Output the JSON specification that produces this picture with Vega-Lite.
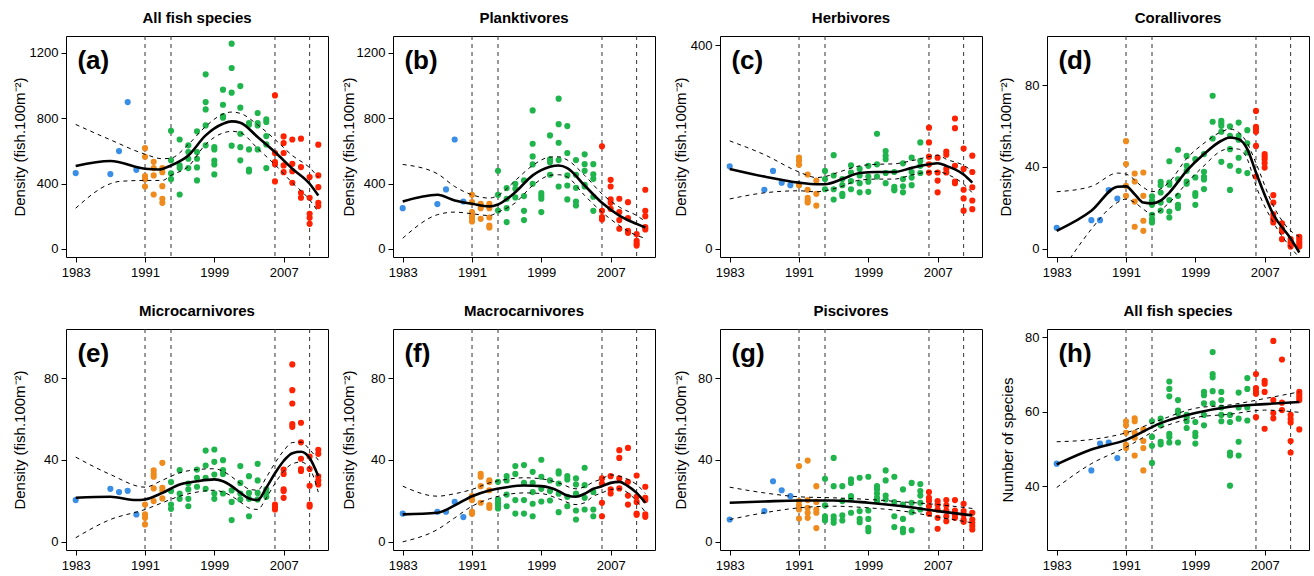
{
"$schema":"https://vega.github.io/schema/vega-lite/v6.json",
"padding":{"left":12,"top":10,"right":5,"bottom":5},
"background":"white",
"config":{
 "font":"Liberation Sans",
 "view":{"stroke":"black","strokeWidth":1},
 "axis":{"domain":false,"grid":false,"tickColor":"black","tickSize":5,"labelColor":"black","labelFontSize":13,"labelFont":"Liberation Sans","titleFont":"Liberation Sans","titleFontSize":15,"titleFontWeight":"normal","titleColor":"black"},
 "axisY":{"labelPadding":3,"minExtent":30,"maxExtent":30,"format":"d"},
 "axisX":{"labelPadding":4},
 "title":{"fontSize":15,"fontWeight":"bold","font":"Liberation Sans","color":"black","offset":10},
 "text":{"font":"Liberation Sans"}
},
"datasets":{
 "vl":[{"x":1991},{"x":1994},{"x":2006},{"x":2010}],
 "lab":[{"p":"a","t":"(a)"},{"p":"b","t":"(b)"},{"p":"c","t":"(c)"},{"p":"d","t":"(d)"},{"p":"e","t":"(e)"},{"p":"f","t":"(f)"},{"p":"g","t":"(g)"},{"p":"h","t":"(h)"}],
 "pts":[
{"p":"a","x":1983,"y":464},{"p":"a","x":1987,"y":458},{"p":"a","x":1988,"y":599},{"p":"a","x":1989,"y":899},{"p":"a","x":1990,"y":484},
{"p":"a","x":1991,"y":617},{"p":"a","x":1991,"y":564},{"p":"a","x":1991,"y":446},{"p":"a","x":1991,"y":427},{"p":"a","x":1991,"y":382},
{"p":"a","x":1992,"y":533},{"p":"a","x":1992,"y":495},{"p":"a","x":1992,"y":450},{"p":"a","x":1992,"y":333},
{"p":"a","x":1993,"y":495},{"p":"a","x":1993,"y":470},{"p":"a","x":1993,"y":384},{"p":"a","x":1993,"y":307},{"p":"a","x":1993,"y":282},
{"p":"a","x":1994,"y":723},{"p":"a","x":1994,"y":543},{"p":"a","x":1994,"y":462},{"p":"a","x":1994,"y":427},
{"p":"a","x":1995,"y":670},{"p":"a","x":1995,"y":511},{"p":"a","x":1995,"y":495},{"p":"a","x":1995,"y":333},
{"p":"a","x":1996,"y":634},{"p":"a","x":1996,"y":593},{"p":"a","x":1996,"y":552},{"p":"a","x":1996,"y":495},
{"p":"a","x":1997,"y":720},{"p":"a","x":1997,"y":593},{"p":"a","x":1997,"y":552},{"p":"a","x":1997,"y":499},{"p":"a","x":1997,"y":419},
{"p":"a","x":1998,"y":1069},{"p":"a","x":1998,"y":899},{"p":"a","x":1998,"y":854},{"p":"a","x":1998,"y":756},{"p":"a","x":1998,"y":634},
{"p":"a","x":1999,"y":623},{"p":"a","x":1999,"y":609},{"p":"a","x":1999,"y":540},{"p":"a","x":1999,"y":517},{"p":"a","x":1999,"y":456},
{"p":"a","x":2000,"y":975},{"p":"a","x":2000,"y":883},{"p":"a","x":2000,"y":814},{"p":"a","x":2000,"y":803},
{"p":"a","x":2001,"y":1257},{"p":"a","x":2001,"y":1108},{"p":"a","x":2001,"y":957},{"p":"a","x":2001,"y":632},
{"p":"a","x":2002,"y":997},{"p":"a","x":2002,"y":865},{"p":"a","x":2002,"y":705},{"p":"a","x":2002,"y":623},{"p":"a","x":2002,"y":542},
{"p":"a","x":2003,"y":771},{"p":"a","x":2003,"y":760},{"p":"a","x":2003,"y":609},{"p":"a","x":2003,"y":486},{"p":"a","x":2003,"y":474},
{"p":"a","x":2004,"y":832},{"p":"a","x":2004,"y":771},{"p":"a","x":2004,"y":756},{"p":"a","x":2004,"y":609},
{"p":"a","x":2005,"y":793},{"p":"a","x":2005,"y":777},{"p":"a","x":2005,"y":691},{"p":"a","x":2005,"y":640},{"p":"a","x":2005,"y":495},
{"p":"a","x":2006,"y":940},{"p":"a","x":2006,"y":587},{"p":"a","x":2006,"y":531},{"p":"a","x":2006,"y":519},{"p":"a","x":2006,"y":413},
{"p":"a","x":2007,"y":689},{"p":"a","x":2007,"y":648},{"p":"a","x":2007,"y":587},{"p":"a","x":2007,"y":511},{"p":"a","x":2007,"y":470},
{"p":"a","x":2008,"y":670},{"p":"a","x":2008,"y":521},{"p":"a","x":2008,"y":476},{"p":"a","x":2008,"y":405},
{"p":"a","x":2009,"y":675},{"p":"a","x":2009,"y":501},{"p":"a","x":2009,"y":343},{"p":"a","x":2009,"y":313},
{"p":"a","x":2010,"y":440},{"p":"a","x":2010,"y":313},{"p":"a","x":2010,"y":215},{"p":"a","x":2010,"y":190},{"p":"a","x":2010,"y":153},
{"p":"a","x":2011,"y":638},{"p":"a","x":2011,"y":450},{"p":"a","x":2011,"y":378},{"p":"a","x":2011,"y":282},{"p":"a","x":2011,"y":262},

{"p":"b","x":1983,"y":249},{"p":"b","x":1987,"y":274},{"p":"b","x":1988,"y":364},{"p":"b","x":1989,"y":670},{"p":"b","x":1990,"y":290},
{"p":"b","x":1991,"y":331},{"p":"b","x":1991,"y":286},{"p":"b","x":1991,"y":225},{"p":"b","x":1991,"y":204},{"p":"b","x":1991,"y":188},{"p":"b","x":1991,"y":168},
{"p":"b","x":1992,"y":276},{"p":"b","x":1992,"y":249},{"p":"b","x":1992,"y":184},
{"p":"b","x":1993,"y":276},{"p":"b","x":1993,"y":249},{"p":"b","x":1993,"y":192},{"p":"b","x":1993,"y":143},{"p":"b","x":1993,"y":131},
{"p":"b","x":1994,"y":478},{"p":"b","x":1994,"y":331},{"p":"b","x":1994,"y":235},
{"p":"b","x":1995,"y":372},{"p":"b","x":1995,"y":307},{"p":"b","x":1995,"y":249},{"p":"b","x":1995,"y":164},
{"p":"b","x":1996,"y":399},{"p":"b","x":1996,"y":368},{"p":"b","x":1996,"y":315},
{"p":"b","x":1997,"y":419},{"p":"b","x":1997,"y":323},{"p":"b","x":1997,"y":233},{"p":"b","x":1997,"y":176},
{"p":"b","x":1998,"y":848},{"p":"b","x":1998,"y":644},{"p":"b","x":1998,"y":566},{"p":"b","x":1998,"y":517},{"p":"b","x":1998,"y":399},
{"p":"b","x":1999,"y":341},{"p":"b","x":1999,"y":323},{"p":"b","x":1999,"y":307},{"p":"b","x":1999,"y":225},
{"p":"b","x":2000,"y":695},{"p":"b","x":2000,"y":548},{"p":"b","x":2000,"y":531},{"p":"b","x":2000,"y":454},
{"p":"b","x":2001,"y":920},{"p":"b","x":2001,"y":764},{"p":"b","x":2001,"y":650},{"p":"b","x":2001,"y":544},{"p":"b","x":2001,"y":382},
{"p":"b","x":2002,"y":752},{"p":"b","x":2002,"y":587},{"p":"b","x":2002,"y":450},{"p":"b","x":2002,"y":388},{"p":"b","x":2002,"y":303},
{"p":"b","x":2003,"y":544},{"p":"b","x":2003,"y":454},{"p":"b","x":2003,"y":374},{"p":"b","x":2003,"y":290},{"p":"b","x":2003,"y":266},
{"p":"b","x":2004,"y":579},{"p":"b","x":2004,"y":519},{"p":"b","x":2004,"y":478},{"p":"b","x":2004,"y":392},{"p":"b","x":2004,"y":382},
{"p":"b","x":2005,"y":519},{"p":"b","x":2005,"y":456},{"p":"b","x":2005,"y":429},{"p":"b","x":2005,"y":319},{"p":"b","x":2005,"y":233},
{"p":"b","x":2006,"y":628},{"p":"b","x":2006,"y":233},{"p":"b","x":2006,"y":194},{"p":"b","x":2006,"y":180},
{"p":"b","x":2007,"y":423},{"p":"b","x":2007,"y":382},{"p":"b","x":2007,"y":303},{"p":"b","x":2007,"y":282},{"p":"b","x":2007,"y":245},
{"p":"b","x":2008,"y":307},{"p":"b","x":2008,"y":225},{"p":"b","x":2008,"y":176},{"p":"b","x":2008,"y":123},
{"p":"b","x":2009,"y":286},{"p":"b","x":2009,"y":188},{"p":"b","x":2009,"y":110},{"p":"b","x":2009,"y":98},
{"p":"b","x":2010,"y":90},{"p":"b","x":2010,"y":49},{"p":"b","x":2010,"y":33},{"p":"b","x":2010,"y":20},
{"p":"b","x":2011,"y":362},{"p":"b","x":2011,"y":233},{"p":"b","x":2011,"y":200},{"p":"b","x":2011,"y":133},{"p":"b","x":2011,"y":119},

{"p":"c","x":1983,"y":162},{"p":"c","x":1987,"y":116},{"p":"c","x":1988,"y":153},{"p":"c","x":1989,"y":130},{"p":"c","x":1990,"y":125},
{"p":"c","x":1991,"y":179},{"p":"c","x":1991,"y":173},{"p":"c","x":1991,"y":165},{"p":"c","x":1991,"y":125},
{"p":"c","x":1992,"y":146},{"p":"c","x":1992,"y":116},{"p":"c","x":1992,"y":100},{"p":"c","x":1992,"y":95},{"p":"c","x":1992,"y":91},
{"p":"c","x":1993,"y":134},{"p":"c","x":1993,"y":108},{"p":"c","x":1993,"y":85},
{"p":"c","x":1994,"y":153},{"p":"c","x":1994,"y":137},{"p":"c","x":1994,"y":117},
{"p":"c","x":1995,"y":184},{"p":"c","x":1995,"y":144},{"p":"c","x":1995,"y":117},{"p":"c","x":1995,"y":97},
{"p":"c","x":1996,"y":137},{"p":"c","x":1996,"y":125},{"p":"c","x":1996,"y":108},{"p":"c","x":1996,"y":104},
{"p":"c","x":1997,"y":164},{"p":"c","x":1997,"y":150},{"p":"c","x":1997,"y":133},{"p":"c","x":1997,"y":117},
{"p":"c","x":1998,"y":157},{"p":"c","x":1998,"y":144},{"p":"c","x":1998,"y":129},{"p":"c","x":1998,"y":111},
{"p":"c","x":1999,"y":163},{"p":"c","x":1999,"y":142},{"p":"c","x":1999,"y":132},{"p":"c","x":1999,"y":112},
{"p":"c","x":2000,"y":226},{"p":"c","x":2000,"y":166},{"p":"c","x":2000,"y":142},
{"p":"c","x":2001,"y":192},{"p":"c","x":2001,"y":183},{"p":"c","x":2001,"y":176},{"p":"c","x":2001,"y":149},{"p":"c","x":2001,"y":129},
{"p":"c","x":2002,"y":151},{"p":"c","x":2002,"y":122},{"p":"c","x":2002,"y":117},{"p":"c","x":2002,"y":115},
{"p":"c","x":2003,"y":168},{"p":"c","x":2003,"y":137},{"p":"c","x":2003,"y":123},{"p":"c","x":2003,"y":111},
{"p":"c","x":2004,"y":179},{"p":"c","x":2004,"y":151},{"p":"c","x":2004,"y":140},{"p":"c","x":2004,"y":125},
{"p":"c","x":2005,"y":209},{"p":"c","x":2005,"y":173},{"p":"c","x":2005,"y":163},{"p":"c","x":2005,"y":149},
{"p":"c","x":2006,"y":238},{"p":"c","x":2006,"y":209},{"p":"c","x":2006,"y":181},{"p":"c","x":2006,"y":166},{"p":"c","x":2006,"y":150},
{"p":"c","x":2007,"y":179},{"p":"c","x":2007,"y":150},{"p":"c","x":2007,"y":134},{"p":"c","x":2007,"y":111},
{"p":"c","x":2008,"y":191},{"p":"c","x":2008,"y":185},{"p":"c","x":2008,"y":157},{"p":"c","x":2008,"y":150},
{"p":"c","x":2009,"y":256},{"p":"c","x":2009,"y":237},{"p":"c","x":2009,"y":163},{"p":"c","x":2009,"y":132},{"p":"c","x":2009,"y":129},
{"p":"c","x":2010,"y":197},{"p":"c","x":2010,"y":157},{"p":"c","x":2010,"y":116},{"p":"c","x":2010,"y":99},{"p":"c","x":2010,"y":75},
{"p":"c","x":2011,"y":183},{"p":"c","x":2011,"y":151},{"p":"c","x":2011,"y":121},{"p":"c","x":2011,"y":95},{"p":"c","x":2011,"y":78},

{"p":"d","x":1983,"y":10.3},{"p":"d","x":1987,"y":14},{"p":"d","x":1988,"y":14},{"p":"d","x":1989,"y":28.7},{"p":"d","x":1990,"y":24.6},
{"p":"d","x":1991,"y":52.6},{"p":"d","x":1991,"y":41.4},{"p":"d","x":1991,"y":30.8},{"p":"d","x":1991,"y":25.9},
{"p":"d","x":1992,"y":36.8},{"p":"d","x":1992,"y":32.9},{"p":"d","x":1992,"y":23.1},{"p":"d","x":1992,"y":10.8},
{"p":"d","x":1993,"y":37.3},{"p":"d","x":1993,"y":25.9},{"p":"d","x":1993,"y":13.7},{"p":"d","x":1993,"y":8.8},
{"p":"d","x":1994,"y":25.6},{"p":"d","x":1994,"y":23.5},{"p":"d","x":1994,"y":21.5},{"p":"d","x":1994,"y":16.6},{"p":"d","x":1994,"y":14.5},{"p":"d","x":1994,"y":12.9},
{"p":"d","x":1995,"y":32.7},{"p":"d","x":1995,"y":31.1},{"p":"d","x":1995,"y":27.5},{"p":"d","x":1995,"y":22.6},{"p":"d","x":1995,"y":18.7},
{"p":"d","x":1996,"y":42.8},{"p":"d","x":1996,"y":32.4},{"p":"d","x":1996,"y":31.3},{"p":"d","x":1996,"y":23.8},{"p":"d","x":1996,"y":18.2},{"p":"d","x":1996,"y":15.3},
{"p":"d","x":1997,"y":48.4},{"p":"d","x":1997,"y":34},{"p":"d","x":1997,"y":25.9},{"p":"d","x":1997,"y":21.5},{"p":"d","x":1997,"y":20},
{"p":"d","x":1998,"y":45.4},{"p":"d","x":1998,"y":40.6},{"p":"d","x":1998,"y":38.1},{"p":"d","x":1998,"y":32.9},{"p":"d","x":1998,"y":31.8},
{"p":"d","x":1999,"y":43.8},{"p":"d","x":1999,"y":34.9},{"p":"d","x":1999,"y":27.2},{"p":"d","x":1999,"y":25.9},{"p":"d","x":1999,"y":21.5},
{"p":"d","x":2000,"y":46.3},{"p":"d","x":2000,"y":37.6},{"p":"d","x":2000,"y":35.2},{"p":"d","x":2000,"y":33.9},{"p":"d","x":2000,"y":29.2},
{"p":"d","x":2001,"y":74.8},{"p":"d","x":2001,"y":62.1},{"p":"d","x":2001,"y":53.9},
{"p":"d","x":2002,"y":62.6},{"p":"d","x":2002,"y":61.4},{"p":"d","x":2002,"y":60.1},{"p":"d","x":2002,"y":57.2},{"p":"d","x":2002,"y":42.5},
{"p":"d","x":2003,"y":59.8},{"p":"d","x":2003,"y":55.2},{"p":"d","x":2003,"y":48.7},{"p":"d","x":2003,"y":40.6},{"p":"d","x":2003,"y":28.8},
{"p":"d","x":2004,"y":61.7},{"p":"d","x":2004,"y":55.2},{"p":"d","x":2004,"y":53.3},{"p":"d","x":2004,"y":44.5},{"p":"d","x":2004,"y":38.1},
{"p":"d","x":2005,"y":58},{"p":"d","x":2005,"y":51.6},{"p":"d","x":2005,"y":47.1},{"p":"d","x":2005,"y":37},
{"p":"d","x":2006,"y":67.4},{"p":"d","x":2006,"y":59.6},{"p":"d","x":2006,"y":58.5},{"p":"d","x":2006,"y":57.2},{"p":"d","x":2006,"y":50.3},{"p":"d","x":2006,"y":35.3},
{"p":"d","x":2007,"y":46.3},{"p":"d","x":2007,"y":45.1},{"p":"d","x":2007,"y":43.8},{"p":"d","x":2007,"y":41.9},{"p":"d","x":2007,"y":39.7},
{"p":"d","x":2008,"y":26.2},{"p":"d","x":2008,"y":22.6},{"p":"d","x":2008,"y":16.9},{"p":"d","x":2008,"y":15.3},{"p":"d","x":2008,"y":14.2},{"p":"d","x":2008,"y":12.9},
{"p":"d","x":2009,"y":12.4},{"p":"d","x":2009,"y":9.9},{"p":"d","x":2009,"y":8.5},{"p":"d","x":2009,"y":4.7},
{"p":"d","x":2010,"y":4.7},{"p":"d","x":2010,"y":3.1},{"p":"d","x":2010,"y":2},{"p":"d","x":2010,"y":1.1},
{"p":"d","x":2011,"y":5.9},{"p":"d","x":2011,"y":4.7},{"p":"d","x":2011,"y":3.4},{"p":"d","x":2011,"y":2.3},{"p":"d","x":2011,"y":1.1},

{"p":"e","x":1983,"y":20.4},{"p":"e","x":1987,"y":25.9},{"p":"e","x":1988,"y":24.3},{"p":"e","x":1989,"y":24.9},{"p":"e","x":1990,"y":13.4},
{"p":"e","x":1991,"y":18.2},{"p":"e","x":1991,"y":13.4},{"p":"e","x":1991,"y":11.7},{"p":"e","x":1991,"y":8.5},
{"p":"e","x":1992,"y":34.9},{"p":"e","x":1992,"y":33.2},{"p":"e","x":1992,"y":31.8},{"p":"e","x":1992,"y":26.1},{"p":"e","x":1992,"y":19.9},
{"p":"e","x":1993,"y":38.6},{"p":"e","x":1993,"y":26.4},{"p":"e","x":1993,"y":24.8},{"p":"e","x":1993,"y":21.2},
{"p":"e","x":1994,"y":29.2},{"p":"e","x":1994,"y":24.8},{"p":"e","x":1994,"y":18.2},{"p":"e","x":1994,"y":16.1},
{"p":"e","x":1995,"y":35},{"p":"e","x":1995,"y":23.6},{"p":"e","x":1995,"y":21},
{"p":"e","x":1996,"y":28.5},{"p":"e","x":1996,"y":25.6},{"p":"e","x":1996,"y":21},{"p":"e","x":1996,"y":17.4},
{"p":"e","x":1997,"y":35.3},{"p":"e","x":1997,"y":31.3},{"p":"e","x":1997,"y":26.9},
{"p":"e","x":1998,"y":44.6},{"p":"e","x":1998,"y":37.3},{"p":"e","x":1998,"y":31.3},{"p":"e","x":1998,"y":25.9},
{"p":"e","x":1999,"y":45.1},{"p":"e","x":1999,"y":39.1},{"p":"e","x":1999,"y":32.9},{"p":"e","x":1999,"y":23.6},{"p":"e","x":1999,"y":21},
{"p":"e","x":2000,"y":39.9},{"p":"e","x":2000,"y":35},{"p":"e","x":2000,"y":33.2},{"p":"e","x":2000,"y":23.6},
{"p":"e","x":2001,"y":25.1},{"p":"e","x":2001,"y":19.5},{"p":"e","x":2001,"y":10.6},
{"p":"e","x":2002,"y":37},{"p":"e","x":2002,"y":28.8},{"p":"e","x":2002,"y":23.6},{"p":"e","x":2002,"y":20.7},
{"p":"e","x":2003,"y":32.1},{"p":"e","x":2003,"y":23.9},{"p":"e","x":2003,"y":21},{"p":"e","x":2003,"y":12.5},
{"p":"e","x":2004,"y":38.1},{"p":"e","x":2004,"y":30},{"p":"e","x":2004,"y":23.9},{"p":"e","x":2004,"y":20.7},
{"p":"e","x":2005,"y":25.6},{"p":"e","x":2005,"y":23.9},{"p":"e","x":2005,"y":22},
{"p":"e","x":2006,"y":18.2},{"p":"e","x":2006,"y":17.1},{"p":"e","x":2006,"y":15.8},
{"p":"e","x":2007,"y":35.3},{"p":"e","x":2007,"y":33.2},{"p":"e","x":2007,"y":25.6},{"p":"e","x":2007,"y":24.8},{"p":"e","x":2007,"y":21.5},
{"p":"e","x":2008,"y":86.7},{"p":"e","x":2008,"y":74.1},{"p":"e","x":2008,"y":67.6},{"p":"e","x":2008,"y":57.5},{"p":"e","x":2008,"y":56.2},
{"p":"e","x":2009,"y":58.2},{"p":"e","x":2009,"y":48.6},{"p":"e","x":2009,"y":40.6},{"p":"e","x":2009,"y":35.6},{"p":"e","x":2009,"y":34.6},
{"p":"e","x":2010,"y":41.7},{"p":"e","x":2010,"y":35.6},{"p":"e","x":2010,"y":27.4},{"p":"e","x":2010,"y":18.2},{"p":"e","x":2010,"y":17.2},
{"p":"e","x":2011,"y":45},{"p":"e","x":2011,"y":43},{"p":"e","x":2011,"y":32},{"p":"e","x":2011,"y":30},{"p":"e","x":2011,"y":28},

{"p":"f","x":1983,"y":13.8},{"p":"f","x":1987,"y":14.7},{"p":"f","x":1988,"y":14.7},{"p":"f","x":1989,"y":19.5},{"p":"f","x":1990,"y":12.1},
{"p":"f","x":1991,"y":22.3},{"p":"f","x":1991,"y":20.4},{"p":"f","x":1991,"y":14.7},{"p":"f","x":1991,"y":13.7},
{"p":"f","x":1992,"y":33.2},{"p":"f","x":1992,"y":31.8},{"p":"f","x":1992,"y":27.2},{"p":"f","x":1992,"y":19.1},
{"p":"f","x":1993,"y":30.1},{"p":"f","x":1993,"y":29.2},{"p":"f","x":1993,"y":25.2},{"p":"f","x":1993,"y":17.9},{"p":"f","x":1993,"y":16.6},
{"p":"f","x":1994,"y":29.3},{"p":"f","x":1994,"y":20.7},{"p":"f","x":1994,"y":19.1},{"p":"f","x":1994,"y":17.8},{"p":"f","x":1994,"y":16.3},
{"p":"f","x":1995,"y":32.1},{"p":"f","x":1995,"y":30},{"p":"f","x":1995,"y":23.1},{"p":"f","x":1995,"y":17.4},
{"p":"f","x":1996,"y":37},{"p":"f","x":1996,"y":33.2},{"p":"f","x":1996,"y":20.4},{"p":"f","x":1996,"y":13.8},
{"p":"f","x":1997,"y":37.5},{"p":"f","x":1997,"y":28.8},{"p":"f","x":1997,"y":20.4},{"p":"f","x":1997,"y":13.8},
{"p":"f","x":1998,"y":34.2},{"p":"f","x":1998,"y":28.8},{"p":"f","x":1998,"y":24.3},{"p":"f","x":1998,"y":18.6},{"p":"f","x":1998,"y":12.5},
{"p":"f","x":1999,"y":40.1},{"p":"f","x":1999,"y":31.8},{"p":"f","x":1999,"y":25.9},{"p":"f","x":1999,"y":19.7},
{"p":"f","x":2000,"y":30},{"p":"f","x":2000,"y":24.8},{"p":"f","x":2000,"y":20.2},
{"p":"f","x":2001,"y":34.5},{"p":"f","x":2001,"y":33.4},{"p":"f","x":2001,"y":28.5},{"p":"f","x":2001,"y":23.5},{"p":"f","x":2001,"y":14.5},
{"p":"f","x":2002,"y":32.1},{"p":"f","x":2002,"y":30.5},{"p":"f","x":2002,"y":22},{"p":"f","x":2002,"y":17.4},
{"p":"f","x":2003,"y":31},{"p":"f","x":2003,"y":28},{"p":"f","x":2003,"y":23.6},{"p":"f","x":2003,"y":15.3},{"p":"f","x":2003,"y":10.9},
{"p":"f","x":2004,"y":36.2},{"p":"f","x":2004,"y":27.7},{"p":"f","x":2004,"y":21.5},{"p":"f","x":2004,"y":15.8},
{"p":"f","x":2005,"y":24.4},{"p":"f","x":2005,"y":15.8},{"p":"f","x":2005,"y":12.5},
{"p":"f","x":2006,"y":31},{"p":"f","x":2006,"y":28.5},{"p":"f","x":2006,"y":19.1},{"p":"f","x":2006,"y":12.5},
{"p":"f","x":2007,"y":32.1},{"p":"f","x":2007,"y":25.6},{"p":"f","x":2007,"y":23.6},
{"p":"f","x":2008,"y":44.8},{"p":"f","x":2008,"y":41},{"p":"f","x":2008,"y":31},{"p":"f","x":2008,"y":26.1},
{"p":"f","x":2009,"y":45.9},{"p":"f","x":2009,"y":29.3},{"p":"f","x":2009,"y":22.6},{"p":"f","x":2009,"y":18.2},
{"p":"f","x":2010,"y":32.4},{"p":"f","x":2010,"y":22},{"p":"f","x":2010,"y":19.5},{"p":"f","x":2010,"y":13.8},{"p":"f","x":2010,"y":13.2},
{"p":"f","x":2011,"y":26.9},{"p":"f","x":2011,"y":21.5},{"p":"f","x":2011,"y":20.4},{"p":"f","x":2011,"y":13.4},{"p":"f","x":2011,"y":12.2},

{"p":"g","x":1983,"y":10.9},{"p":"g","x":1987,"y":15},{"p":"g","x":1988,"y":29.6},{"p":"g","x":1989,"y":25.2},{"p":"g","x":1990,"y":22.3},
{"p":"g","x":1991,"y":37},{"p":"g","x":1991,"y":19.9},{"p":"g","x":1991,"y":17.8},{"p":"g","x":1991,"y":15.8},{"p":"g","x":1991,"y":11.4},
{"p":"g","x":1992,"y":39.7},{"p":"g","x":1992,"y":20.4},{"p":"g","x":1992,"y":16.6},{"p":"g","x":1992,"y":14.2},{"p":"g","x":1992,"y":11.7},
{"p":"g","x":1993,"y":27.2},{"p":"g","x":1993,"y":19.5},{"p":"g","x":1993,"y":15.8},{"p":"g","x":1993,"y":14.2},{"p":"g","x":1993,"y":6.7},
{"p":"g","x":1994,"y":30.8},{"p":"g","x":1994,"y":17.8},{"p":"g","x":1994,"y":12.5},{"p":"g","x":1994,"y":11.2},{"p":"g","x":1994,"y":10.4},
{"p":"g","x":1995,"y":41},{"p":"g","x":1995,"y":27.2},{"p":"g","x":1995,"y":12.5},{"p":"g","x":1995,"y":10.9},{"p":"g","x":1995,"y":9.3},
{"p":"g","x":1996,"y":27.2},{"p":"g","x":1996,"y":19.9},{"p":"g","x":1996,"y":12.9},{"p":"g","x":1996,"y":10.4},
{"p":"g","x":1997,"y":30.5},{"p":"g","x":1997,"y":28.8},{"p":"g","x":1997,"y":22.3},{"p":"g","x":1997,"y":21},{"p":"g","x":1997,"y":14.2},
{"p":"g","x":1998,"y":31.3},{"p":"g","x":1998,"y":15},{"p":"g","x":1998,"y":11.2},{"p":"g","x":1998,"y":9.6},
{"p":"g","x":1999,"y":31.8},{"p":"g","x":1999,"y":15.3},{"p":"g","x":1999,"y":11.2},{"p":"g","x":1999,"y":6.8},{"p":"g","x":1999,"y":5.2},
{"p":"g","x":2000,"y":27.2},{"p":"g","x":2000,"y":25.6},{"p":"g","x":2000,"y":23.6},{"p":"g","x":2000,"y":21.5},{"p":"g","x":2000,"y":19.9},
{"p":"g","x":2001,"y":34.9},{"p":"g","x":2001,"y":30},{"p":"g","x":2001,"y":22.6},{"p":"g","x":2001,"y":20.7},
{"p":"g","x":2002,"y":31.8},{"p":"g","x":2002,"y":19.4},{"p":"g","x":2002,"y":12.5},{"p":"g","x":2002,"y":7.2},
{"p":"g","x":2003,"y":25.6},{"p":"g","x":2003,"y":18.2},{"p":"g","x":2003,"y":11.2},{"p":"g","x":2003,"y":6.4},{"p":"g","x":2003,"y":4.7},
{"p":"g","x":2004,"y":28.8},{"p":"g","x":2004,"y":19.1},{"p":"g","x":2004,"y":14.5},{"p":"g","x":2004,"y":5.7},
{"p":"g","x":2005,"y":28.2},{"p":"g","x":2005,"y":24.8},{"p":"g","x":2005,"y":22.6},{"p":"g","x":2005,"y":19.1},{"p":"g","x":2005,"y":15.8},
{"p":"g","x":2006,"y":24.3},{"p":"g","x":2006,"y":21.5},{"p":"g","x":2006,"y":19.9},{"p":"g","x":2006,"y":17.4},{"p":"g","x":2006,"y":13.7},
{"p":"g","x":2007,"y":19.9},{"p":"g","x":2007,"y":18.2},{"p":"g","x":2007,"y":15.8},{"p":"g","x":2007,"y":11.7},{"p":"g","x":2007,"y":6.4},
{"p":"g","x":2008,"y":20.4},{"p":"g","x":2008,"y":17.8},{"p":"g","x":2008,"y":15.3},{"p":"g","x":2008,"y":12.5},{"p":"g","x":2008,"y":10.1},
{"p":"g","x":2009,"y":20.4},{"p":"g","x":2009,"y":15.3},{"p":"g","x":2009,"y":13.4},{"p":"g","x":2009,"y":11.7},
{"p":"g","x":2010,"y":18.6},{"p":"g","x":2010,"y":15},{"p":"g","x":2010,"y":13.4},{"p":"g","x":2010,"y":10.9},{"p":"g","x":2010,"y":9.8},
{"p":"g","x":2011,"y":14.2},{"p":"g","x":2011,"y":10.9},{"p":"g","x":2011,"y":9.3},{"p":"g","x":2011,"y":7.7},{"p":"g","x":2011,"y":6},

{"p":"h","x":1983,"y":46},{"p":"h","x":1987,"y":44.2},{"p":"h","x":1988,"y":51.4},{"p":"h","x":1989,"y":51.7},{"p":"h","x":1990,"y":47.5},
{"p":"h","x":1991,"y":57.4},{"p":"h","x":1991,"y":56.3},{"p":"h","x":1991,"y":54.3},{"p":"h","x":1991,"y":51.1},{"p":"h","x":1991,"y":50.2},
{"p":"h","x":1992,"y":58.2},{"p":"h","x":1992,"y":57.4},{"p":"h","x":1992,"y":54.3},{"p":"h","x":1992,"y":53},{"p":"h","x":1992,"y":48.2},
{"p":"h","x":1993,"y":55.2},{"p":"h","x":1993,"y":52.1},{"p":"h","x":1993,"y":50.2},{"p":"h","x":1993,"y":44.2},
{"p":"h","x":1994,"y":57.4},{"p":"h","x":1994,"y":53.2},{"p":"h","x":1994,"y":50.8},{"p":"h","x":1994,"y":46.2},
{"p":"h","x":1995,"y":58.1},{"p":"h","x":1995,"y":56.3},{"p":"h","x":1995,"y":51.9},{"p":"h","x":1995,"y":51.2},
{"p":"h","x":1996,"y":68.1},{"p":"h","x":1996,"y":66.1},{"p":"h","x":1996,"y":64.1},{"p":"h","x":1996,"y":54},{"p":"h","x":1996,"y":53.2},{"p":"h","x":1996,"y":51.7},
{"p":"h","x":1997,"y":63.1},{"p":"h","x":1997,"y":60.3},{"p":"h","x":1997,"y":59.6},{"p":"h","x":1997,"y":51.7},
{"p":"h","x":1998,"y":59.1},{"p":"h","x":1998,"y":58.4},{"p":"h","x":1998,"y":57.4},{"p":"h","x":1998,"y":55.6},
{"p":"h","x":1999,"y":57.2},{"p":"h","x":1999,"y":54.3},{"p":"h","x":1999,"y":53.4},{"p":"h","x":1999,"y":51.4},
{"p":"h","x":2000,"y":65.3},{"p":"h","x":2000,"y":64.4},{"p":"h","x":2000,"y":62.2},{"p":"h","x":2000,"y":59.1},{"p":"h","x":2000,"y":56.3},
{"p":"h","x":2001,"y":76},{"p":"h","x":2001,"y":70.1},{"p":"h","x":2001,"y":69.2},{"p":"h","x":2001,"y":65.5},{"p":"h","x":2001,"y":62.2},
{"p":"h","x":2002,"y":65.3},{"p":"h","x":2002,"y":63.1},{"p":"h","x":2002,"y":61.1},{"p":"h","x":2002,"y":59.1},{"p":"h","x":2002,"y":57.4},
{"p":"h","x":2003,"y":59.1},{"p":"h","x":2003,"y":57.2},{"p":"h","x":2003,"y":49},{"p":"h","x":2003,"y":48.2},{"p":"h","x":2003,"y":40.1},
{"p":"h","x":2004,"y":65.1},{"p":"h","x":2004,"y":61.1},{"p":"h","x":2004,"y":58.1},{"p":"h","x":2004,"y":51.9},{"p":"h","x":2004,"y":48.2},
{"p":"h","x":2005,"y":69},{"p":"h","x":2005,"y":66.1},{"p":"h","x":2005,"y":61.1},{"p":"h","x":2005,"y":57.6},
{"p":"h","x":2006,"y":70.1},{"p":"h","x":2006,"y":66.3},{"p":"h","x":2006,"y":65.4},{"p":"h","x":2006,"y":64.8},{"p":"h","x":2006,"y":58.5},
{"p":"h","x":2007,"y":68.3},{"p":"h","x":2007,"y":67.5},{"p":"h","x":2007,"y":65.3},{"p":"h","x":2007,"y":55.4},
{"p":"h","x":2008,"y":79},{"p":"h","x":2008,"y":63.1},{"p":"h","x":2008,"y":59.6},{"p":"h","x":2008,"y":58.2},
{"p":"h","x":2009,"y":74},{"p":"h","x":2009,"y":62.4},{"p":"h","x":2009,"y":60.4},
{"p":"h","x":2010,"y":59.1},{"p":"h","x":2010,"y":58},{"p":"h","x":2010,"y":57.1},{"p":"h","x":2010,"y":52.1},{"p":"h","x":2010,"y":49},
{"p":"h","x":2011,"y":65.3},{"p":"h","x":2011,"y":64.6},{"p":"h","x":2011,"y":63.8},{"p":"h","x":2011,"y":63.1},{"p":"h","x":2011,"y":55.2}
 ],
 "crv":[
{"p":"a","k":"m","x":1983,"y":507},{"p":"a","k":"m","x":1987,"y":538},{"p":"a","k":"m","x":1991,"y":491},{"p":"a","k":"m","x":1992.6,"y":486},{"p":"a","k":"m","x":1994,"y":511},{"p":"a","k":"m","x":1996,"y":572},{"p":"a","k":"m","x":1998,"y":695},{"p":"a","k":"m","x":2000,"y":766},{"p":"a","k":"m","x":2001,"y":781},{"p":"a","k":"m","x":2002,"y":773},{"p":"a","k":"m","x":2004,"y":685},{"p":"a","k":"m","x":2006,"y":593},{"p":"a","k":"m","x":2008,"y":491},{"p":"a","k":"m","x":2010,"y":399},{"p":"a","k":"m","x":2011,"y":327},
{"p":"a","k":"hi","x":1983,"y":762},{"p":"a","k":"hi","x":1987,"y":668},{"p":"a","k":"hi","x":1991,"y":580},{"p":"a","k":"hi","x":1993,"y":552},{"p":"a","k":"hi","x":1994,"y":556},{"p":"a","k":"hi","x":1996,"y":640},{"p":"a","k":"hi","x":1998,"y":750},{"p":"a","k":"hi","x":2000,"y":826},{"p":"a","k":"hi","x":2001,"y":838},{"p":"a","k":"hi","x":2002,"y":830},{"p":"a","k":"hi","x":2004,"y":760},{"p":"a","k":"hi","x":2006,"y":670},{"p":"a","k":"hi","x":2008,"y":572},{"p":"a","k":"hi","x":2010,"y":497},{"p":"a","k":"hi","x":2011,"y":440},
{"p":"a","k":"lo","x":1983,"y":249},{"p":"a","k":"lo","x":1987,"y":399},{"p":"a","k":"lo","x":1988,"y":413},{"p":"a","k":"lo","x":1991,"y":419},{"p":"a","k":"lo","x":1993,"y":419},{"p":"a","k":"lo","x":1994,"y":450},{"p":"a","k":"lo","x":1996,"y":505},{"p":"a","k":"lo","x":1998,"y":640},{"p":"a","k":"lo","x":2000,"y":710},{"p":"a","k":"lo","x":2001,"y":720},{"p":"a","k":"lo","x":2002,"y":712},{"p":"a","k":"lo","x":2004,"y":615},{"p":"a","k":"lo","x":2006,"y":515},{"p":"a","k":"lo","x":2008,"y":405},{"p":"a","k":"lo","x":2010,"y":300},{"p":"a","k":"lo","x":2011,"y":225},

{"p":"b","k":"m","x":1983,"y":290},{"p":"b","k":"m","x":1987,"y":331},{"p":"b","k":"m","x":1989,"y":296},{"p":"b","k":"m","x":1991,"y":276},{"p":"b","k":"m","x":1993,"y":260},{"p":"b","k":"m","x":1994,"y":272},{"p":"b","k":"m","x":1996,"y":347},{"p":"b","k":"m","x":1998,"y":450},{"p":"b","k":"m","x":2000,"y":503},{"p":"b","k":"m","x":2001,"y":511},{"p":"b","k":"m","x":2002,"y":495},{"p":"b","k":"m","x":2004,"y":388},{"p":"b","k":"m","x":2006,"y":282},{"p":"b","k":"m","x":2008,"y":204},{"p":"b","k":"m","x":2010,"y":153},{"p":"b","k":"m","x":2011,"y":131},
{"p":"b","k":"hi","x":1983,"y":517},{"p":"b","k":"hi","x":1987,"y":460},{"p":"b","k":"hi","x":1989,"y":382},{"p":"b","k":"hi","x":1991,"y":331},{"p":"b","k":"hi","x":1993,"y":311},{"p":"b","k":"hi","x":1994,"y":327},{"p":"b","k":"hi","x":1996,"y":419},{"p":"b","k":"hi","x":1998,"y":511},{"p":"b","k":"hi","x":2000,"y":562},{"p":"b","k":"hi","x":2001,"y":564},{"p":"b","k":"hi","x":2002,"y":544},{"p":"b","k":"hi","x":2004,"y":450},{"p":"b","k":"hi","x":2006,"y":337},{"p":"b","k":"hi","x":2008,"y":256},{"p":"b","k":"hi","x":2010,"y":204},{"p":"b","k":"hi","x":2011,"y":168},
{"p":"b","k":"lo","x":1983,"y":65},{"p":"b","k":"lo","x":1987,"y":209},{"p":"b","k":"lo","x":1989,"y":225},{"p":"b","k":"lo","x":1991,"y":215},{"p":"b","k":"lo","x":1993,"y":204},{"p":"b","k":"lo","x":1994,"y":225},{"p":"b","k":"lo","x":1996,"y":282},{"p":"b","k":"lo","x":1998,"y":388},{"p":"b","k":"lo","x":2000,"y":450},{"p":"b","k":"lo","x":2001,"y":454},{"p":"b","k":"lo","x":2002,"y":440},{"p":"b","k":"lo","x":2004,"y":327},{"p":"b","k":"lo","x":2006,"y":225},{"p":"b","k":"lo","x":2008,"y":143},{"p":"b","k":"lo","x":2010,"y":82},{"p":"b","k":"lo","x":2011,"y":65},

{"p":"c","k":"m","x":1983,"y":157},{"p":"c","k":"m","x":1987,"y":142},{"p":"c","k":"m","x":1991,"y":130},{"p":"c","k":"m","x":1993,"y":127},{"p":"c","k":"m","x":1994,"y":127},{"p":"c","k":"m","x":1996,"y":137},{"p":"c","k":"m","x":1998,"y":149},{"p":"c","k":"m","x":2000,"y":151},{"p":"c","k":"m","x":2002,"y":151},{"p":"c","k":"m","x":2004,"y":159},{"p":"c","k":"m","x":2006,"y":166},{"p":"c","k":"m","x":2007,"y":168},{"p":"c","k":"m","x":2008,"y":163},{"p":"c","k":"m","x":2010,"y":146},{"p":"c","k":"m","x":2011,"y":130},
{"p":"c","k":"hi","x":1983,"y":212},{"p":"c","k":"hi","x":1987,"y":185},{"p":"c","k":"hi","x":1991,"y":151},{"p":"c","k":"hi","x":1993,"y":140},{"p":"c","k":"hi","x":1994,"y":142},{"p":"c","k":"hi","x":1996,"y":153},{"p":"c","k":"hi","x":1998,"y":163},{"p":"c","k":"hi","x":2000,"y":166},{"p":"c","k":"hi","x":2002,"y":167},{"p":"c","k":"hi","x":2004,"y":173},{"p":"c","k":"hi","x":2006,"y":181},{"p":"c","k":"hi","x":2007,"y":184},{"p":"c","k":"hi","x":2008,"y":176},{"p":"c","k":"hi","x":2010,"y":164},{"p":"c","k":"hi","x":2011,"y":153},
{"p":"c","k":"lo","x":1983,"y":98},{"p":"c","k":"lo","x":1987,"y":110},{"p":"c","k":"lo","x":1991,"y":114},{"p":"c","k":"lo","x":1993,"y":112},{"p":"c","k":"lo","x":1994,"y":114},{"p":"c","k":"lo","x":1996,"y":123},{"p":"c","k":"lo","x":1998,"y":135},{"p":"c","k":"lo","x":2000,"y":137},{"p":"c","k":"lo","x":2002,"y":137},{"p":"c","k":"lo","x":2004,"y":145},{"p":"c","k":"lo","x":2006,"y":151},{"p":"c","k":"lo","x":2007,"y":152},{"p":"c","k":"lo","x":2008,"y":147},{"p":"c","k":"lo","x":2010,"y":127},{"p":"c","k":"lo","x":2011,"y":110},

{"p":"d","k":"m","x":1983,"y":8.8},{"p":"d","k":"m","x":1987,"y":18.6},{"p":"d","k":"m","x":1990,"y":30.3},{"p":"d","k":"m","x":1991,"y":30.5},{"p":"d","k":"m","x":1992,"y":26.7},{"p":"d","k":"m","x":1993,"y":22.6},{"p":"d","k":"m","x":1994,"y":22.2},{"p":"d","k":"m","x":1995,"y":23.5},{"p":"d","k":"m","x":1996,"y":27.5},{"p":"d","k":"m","x":1998,"y":38.1},{"p":"d","k":"m","x":2000,"y":46.3},{"p":"d","k":"m","x":2002,"y":52.8},{"p":"d","k":"m","x":2003,"y":54.4},{"p":"d","k":"m","x":2004,"y":53.6},{"p":"d","k":"m","x":2005,"y":48.7},{"p":"d","k":"m","x":2006,"y":37.3},{"p":"d","k":"m","x":2008,"y":16.9},{"p":"d","k":"m","x":2010,"y":5},{"p":"d","k":"m","x":2011,"y":-1.8},
{"p":"d","k":"hi","x":1983,"y":27.9},{"p":"d","k":"hi","x":1987,"y":30.5},{"p":"d","k":"hi","x":1990,"y":37},{"p":"d","k":"hi","x":1991,"y":36.5},{"p":"d","k":"hi","x":1993,"y":30},{"p":"d","k":"hi","x":1994,"y":27.9},{"p":"d","k":"hi","x":1996,"y":32.7},{"p":"d","k":"hi","x":1998,"y":44.1},{"p":"d","k":"hi","x":2000,"y":51.6},{"p":"d","k":"hi","x":2002,"y":57.2},{"p":"d","k":"hi","x":2003,"y":58.5},{"p":"d","k":"hi","x":2004,"y":56.9},{"p":"d","k":"hi","x":2005,"y":51.6},{"p":"d","k":"hi","x":2006,"y":41.9},{"p":"d","k":"hi","x":2008,"y":21},{"p":"d","k":"hi","x":2010,"y":8.8},{"p":"d","k":"hi","x":2011,"y":5.9},
{"p":"d","k":"lo","x":1983,"y":-14.5},{"p":"d","k":"lo","x":1987,"y":9.6},{"p":"d","k":"lo","x":1989,"y":19.4},{"p":"d","k":"lo","x":1990,"y":22.6},{"p":"d","k":"lo","x":1991,"y":24.3},{"p":"d","k":"lo","x":1992,"y":22.6},{"p":"d","k":"lo","x":1993,"y":19.4},{"p":"d","k":"lo","x":1994,"y":16.9},{"p":"d","k":"lo","x":1996,"y":22.6},{"p":"d","k":"lo","x":1998,"y":32.1},{"p":"d","k":"lo","x":2000,"y":40.6},{"p":"d","k":"lo","x":2002,"y":47.9},{"p":"d","k":"lo","x":2003,"y":49},{"p":"d","k":"lo","x":2004,"y":48.7},{"p":"d","k":"lo","x":2005,"y":43.8},{"p":"d","k":"lo","x":2006,"y":30.8},{"p":"d","k":"lo","x":2008,"y":12.9},{"p":"d","k":"lo","x":2010,"y":0.7},{"p":"d","k":"lo","x":2011,"y":-4.2},

{"p":"e","k":"m","x":1983,"y":21.5},{"p":"e","k":"m","x":1987,"y":22},{"p":"e","k":"m","x":1990,"y":20.4},{"p":"e","k":"m","x":1991,"y":20.7},{"p":"e","k":"m","x":1993,"y":23.9},{"p":"e","k":"m","x":1995,"y":28},{"p":"e","k":"m","x":1997,"y":29.6},{"p":"e","k":"m","x":1999,"y":30.5},{"p":"e","k":"m","x":2000,"y":29.6},{"p":"e","k":"m","x":2001,"y":27.2},{"p":"e","k":"m","x":2002,"y":24},{"p":"e","k":"m","x":2003,"y":21.2},{"p":"e","k":"m","x":2004,"y":20.4},{"p":"e","k":"m","x":2005,"y":26.5},{"p":"e","k":"m","x":2006,"y":33.5},{"p":"e","k":"m","x":2007,"y":39.5},{"p":"e","k":"m","x":2008,"y":43.3},{"p":"e","k":"m","x":2009,"y":44},{"p":"e","k":"m","x":2010,"y":41},{"p":"e","k":"m","x":2011,"y":32.1},
{"p":"e","k":"hi","x":1983,"y":41.4},{"p":"e","k":"hi","x":1987,"y":32.9},{"p":"e","k":"hi","x":1991,"y":26.7},{"p":"e","k":"hi","x":1993,"y":30.1},{"p":"e","k":"hi","x":1995,"y":33.7},{"p":"e","k":"hi","x":1997,"y":35.3},{"p":"e","k":"hi","x":1999,"y":35.7},{"p":"e","k":"hi","x":2000,"y":34.5},{"p":"e","k":"hi","x":2001,"y":31.8},{"p":"e","k":"hi","x":2002,"y":28.5},{"p":"e","k":"hi","x":2003,"y":25.8},{"p":"e","k":"hi","x":2004,"y":25.2},{"p":"e","k":"hi","x":2005,"y":31.5},{"p":"e","k":"hi","x":2006,"y":38.5},{"p":"e","k":"hi","x":2007,"y":44.5},{"p":"e","k":"hi","x":2008,"y":48.5},{"p":"e","k":"hi","x":2009,"y":48.7},{"p":"e","k":"hi","x":2010,"y":45.1},{"p":"e","k":"hi","x":2011,"y":39.9},
{"p":"e","k":"lo","x":1983,"y":2},{"p":"e","k":"lo","x":1987,"y":10.9},{"p":"e","k":"lo","x":1991,"y":15.8},{"p":"e","k":"lo","x":1993,"y":19.1},{"p":"e","k":"lo","x":1995,"y":22.3},{"p":"e","k":"lo","x":1997,"y":24.3},{"p":"e","k":"lo","x":1999,"y":25.2},{"p":"e","k":"lo","x":2000,"y":24.3},{"p":"e","k":"lo","x":2001,"y":22.3},{"p":"e","k":"lo","x":2002,"y":19.5},{"p":"e","k":"lo","x":2003,"y":16.5},{"p":"e","k":"lo","x":2004,"y":15.8},{"p":"e","k":"lo","x":2005,"y":21.5},{"p":"e","k":"lo","x":2006,"y":28.5},{"p":"e","k":"lo","x":2007,"y":34.5},{"p":"e","k":"lo","x":2008,"y":38.1},{"p":"e","k":"lo","x":2009,"y":39},{"p":"e","k":"lo","x":2010,"y":36},{"p":"e","k":"lo","x":2011,"y":24.3},

{"p":"f","k":"m","x":1983,"y":13.4},{"p":"f","k":"m","x":1987,"y":14.2},{"p":"f","k":"m","x":1989,"y":17.8},{"p":"f","k":"m","x":1991,"y":22.3},{"p":"f","k":"m","x":1993,"y":25.1},{"p":"f","k":"m","x":1995,"y":26.7},{"p":"f","k":"m","x":1997,"y":27.5},{"p":"f","k":"m","x":1999,"y":27.2},{"p":"f","k":"m","x":2000,"y":26.4},{"p":"f","k":"m","x":2001,"y":24.8},{"p":"f","k":"m","x":2002,"y":22.6},{"p":"f","k":"m","x":2003,"y":22},{"p":"f","k":"m","x":2004,"y":23.5},{"p":"f","k":"m","x":2005,"y":25.9},{"p":"f","k":"m","x":2006,"y":27.2},{"p":"f","k":"m","x":2007,"y":28.8},{"p":"f","k":"m","x":2008,"y":29.3},{"p":"f","k":"m","x":2009,"y":27.2},{"p":"f","k":"m","x":2010,"y":23.9},{"p":"f","k":"m","x":2011,"y":19.1},
{"p":"f","k":"hi","x":1983,"y":27.2},{"p":"f","k":"hi","x":1987,"y":22.3},{"p":"f","k":"hi","x":1989,"y":23.5},{"p":"f","k":"hi","x":1991,"y":25.6},{"p":"f","k":"hi","x":1993,"y":28.8},{"p":"f","k":"hi","x":1995,"y":30.5},{"p":"f","k":"hi","x":1997,"y":31.3},{"p":"f","k":"hi","x":1999,"y":30.8},{"p":"f","k":"hi","x":2001,"y":28.8},{"p":"f","k":"hi","x":2003,"y":25.9},{"p":"f","k":"hi","x":2004,"y":26.9},{"p":"f","k":"hi","x":2005,"y":29.2},{"p":"f","k":"hi","x":2006,"y":30.8},{"p":"f","k":"hi","x":2007,"y":32.7},{"p":"f","k":"hi","x":2008,"y":32.1},{"p":"f","k":"hi","x":2009,"y":30.5},{"p":"f","k":"hi","x":2010,"y":28},{"p":"f","k":"hi","x":2011,"y":23.6},
{"p":"f","k":"lo","x":1983,"y":0},{"p":"f","k":"lo","x":1987,"y":6},{"p":"f","k":"lo","x":1989,"y":11.7},{"p":"f","k":"lo","x":1991,"y":17.4},{"p":"f","k":"lo","x":1993,"y":21},{"p":"f","k":"lo","x":1995,"y":23.1},{"p":"f","k":"lo","x":1997,"y":23.9},{"p":"f","k":"lo","x":1999,"y":23.6},{"p":"f","k":"lo","x":2001,"y":21},{"p":"f","k":"lo","x":2003,"y":18.2},{"p":"f","k":"lo","x":2004,"y":19.1},{"p":"f","k":"lo","x":2005,"y":22.3},{"p":"f","k":"lo","x":2006,"y":23.9},{"p":"f","k":"lo","x":2007,"y":25.6},{"p":"f","k":"lo","x":2008,"y":25.9},{"p":"f","k":"lo","x":2009,"y":23.9},{"p":"f","k":"lo","x":2010,"y":19.9},{"p":"f","k":"lo","x":2011,"y":14.5},

{"p":"g","k":"m","x":1983,"y":19.1},{"p":"g","k":"m","x":1987,"y":19.7},{"p":"g","k":"m","x":1991,"y":20.2},{"p":"g","k":"m","x":1995,"y":20.2},{"p":"g","k":"m","x":1999,"y":19.1},{"p":"g","k":"m","x":2003,"y":17.4},{"p":"g","k":"m","x":2007,"y":15},{"p":"g","k":"m","x":2011,"y":12.9},
{"p":"g","k":"hi","x":1983,"y":26.7},{"p":"g","k":"hi","x":1987,"y":23.9},{"p":"g","k":"hi","x":1991,"y":22},{"p":"g","k":"hi","x":1995,"y":21.5},{"p":"g","k":"hi","x":1999,"y":20.7},{"p":"g","k":"hi","x":2003,"y":19.5},{"p":"g","k":"hi","x":2007,"y":18.2},{"p":"g","k":"hi","x":2011,"y":16.3},
{"p":"g","k":"lo","x":1983,"y":10.9},{"p":"g","k":"lo","x":1987,"y":14.2},{"p":"g","k":"lo","x":1991,"y":16.6},{"p":"g","k":"lo","x":1995,"y":17.4},{"p":"g","k":"lo","x":1999,"y":16.6},{"p":"g","k":"lo","x":2003,"y":15},{"p":"g","k":"lo","x":2007,"y":12.1},{"p":"g","k":"lo","x":2011,"y":9.3},

{"p":"h","k":"m","x":1983,"y":45.8},{"p":"h","k":"m","x":1987,"y":49.8},{"p":"h","k":"m","x":1991,"y":52.4},{"p":"h","k":"m","x":1995,"y":56.9},{"p":"h","k":"m","x":1999,"y":59.6},{"p":"h","k":"m","x":2003,"y":61.3},{"p":"h","k":"m","x":2007,"y":62},{"p":"h","k":"m","x":2011,"y":62.6},
{"p":"h","k":"hi","x":1983,"y":51.9},{"p":"h","k":"hi","x":1987,"y":52.5},{"p":"h","k":"hi","x":1991,"y":54.3},{"p":"h","k":"hi","x":1995,"y":57.8},{"p":"h","k":"hi","x":1999,"y":60.9},{"p":"h","k":"hi","x":2003,"y":61.8},{"p":"h","k":"hi","x":2007,"y":63.5},{"p":"h","k":"hi","x":2011,"y":65.3},
{"p":"h","k":"lo","x":1983,"y":39.6},{"p":"h","k":"lo","x":1987,"y":46},{"p":"h","k":"lo","x":1991,"y":50.4},{"p":"h","k":"lo","x":1995,"y":55.6},{"p":"h","k":"lo","x":1999,"y":58.4},{"p":"h","k":"lo","x":2003,"y":59.3},{"p":"h","k":"lo","x":2007,"y":60.4},{"p":"h","k":"lo","x":2011,"y":59.8}
 ]
},
"columns":4,
"bounds":"flush",
"spacing":{"row":72,"column":65},
"concat":[
{"title":"All fish species","width":262,"height":221,
 "layer":[
 {"encoding":{"x":{"field":"x","type":"quantitative","scale":{"domain":[1981.88,2012.12],"nice":false,"zero":false},"axis":{"values":[1983,1987,1991,1995,1999,2003,2007,2011],"format":"d","labelExpr":"(datum.value-1983)%8==0 ? datum.label : ''","title":null}}},
  "layer":[
  {"data":{"name":"vl"},"mark":{"type":"rule","strokeDash":[4,4],"color":"#333333","strokeWidth":1},"encoding":{}},
  {"data":{"name":"pts"},"transform":[{"filter":"datum.p=='a'"}],"mark":{"type":"circle","size":38,"opacity":1},"encoding":{"y":{"field":"y","type":"quantitative","scale":{"domain":[-50,1304],"nice":false,"zero":false},"axis":{"values":[0,400,800,1200],"title":"Density (fish.100m⁻²)","titlePadding":8.5}},"color":{"field":"x","type":"quantitative","scale":{"type":"threshold","domain":[1991,1994,2006],"range":["#3a8ee6","#ef8a1d","#1fb54c","#ff2200"]},"legend":null}}},
  {"data":{"name":"crv"},"transform":[{"filter":"datum.p=='a' && datum.k!='m'"}],"mark":{"type":"line","strokeDash":[4,4],"strokeWidth":1,"color":"black","interpolate":"monotone","clip":true},"encoding":{"y":{"field":"y","type":"quantitative","scale":{"domain":[-50,1304],"nice":false,"zero":false},"axis":{"values":[0,400,800,1200],"title":"Density (fish.100m⁻²)","titlePadding":8.5}},"detail":{"field":"k","type":"nominal"}}},
  {"data":{"name":"crv"},"transform":[{"filter":"datum.p=='a' && datum.k=='m'"}],"mark":{"type":"line","strokeWidth":2.6,"color":"black","interpolate":"monotone","clip":true},"encoding":{"y":{"field":"y","type":"quantitative","scale":{"domain":[-50,1304],"nice":false,"zero":false},"axis":{"values":[0,400,800,1200],"title":"Density (fish.100m⁻²)","titlePadding":8.5}}}}
  ]},
  {"data":{"name":"lab"},"transform":[{"filter":"datum.p=='a'"}],"mark":{"type":"text","fontSize":26,"fontWeight":"bold","align":"left","baseline":"middle","fill":"black"},"encoding":{"x":{"datum":1983.2,"type":"quantitative"},"y":{"datum":1151,"type":"quantitative"},"text":{"field":"t","type":"nominal"}}}
 ]},
{"title":"Planktivores","width":262,"height":221,
 "layer":[
 {"encoding":{"x":{"field":"x","type":"quantitative","scale":{"domain":[1981.88,2012.12],"nice":false,"zero":false},"axis":{"values":[1983,1987,1991,1995,1999,2003,2007,2011],"format":"d","labelExpr":"(datum.value-1983)%8==0 ? datum.label : ''","title":null}}},
  "layer":[
  {"data":{"name":"vl"},"mark":{"type":"rule","strokeDash":[4,4],"color":"#333333","strokeWidth":1},"encoding":{}},
  {"data":{"name":"pts"},"transform":[{"filter":"datum.p=='b'"}],"mark":{"type":"circle","size":38,"opacity":1},"encoding":{"y":{"field":"y","type":"quantitative","scale":{"domain":[-50,1304],"nice":false,"zero":false},"axis":{"values":[0,400,800,1200],"title":"Density (fish.100m⁻²)","titlePadding":7}},"color":{"field":"x","type":"quantitative","scale":{"type":"threshold","domain":[1991,1994,2006],"range":["#3a8ee6","#ef8a1d","#1fb54c","#ff2200"]},"legend":null}}},
  {"data":{"name":"crv"},"transform":[{"filter":"datum.p=='b' && datum.k!='m'"}],"mark":{"type":"line","strokeDash":[4,4],"strokeWidth":1,"color":"black","interpolate":"monotone","clip":true},"encoding":{"y":{"field":"y","type":"quantitative","scale":{"domain":[-50,1304],"nice":false,"zero":false},"axis":{"values":[0,400,800,1200],"title":"Density (fish.100m⁻²)","titlePadding":7}},"detail":{"field":"k","type":"nominal"}}},
  {"data":{"name":"crv"},"transform":[{"filter":"datum.p=='b' && datum.k=='m'"}],"mark":{"type":"line","strokeWidth":2.6,"color":"black","interpolate":"monotone","clip":true},"encoding":{"y":{"field":"y","type":"quantitative","scale":{"domain":[-50,1304],"nice":false,"zero":false},"axis":{"values":[0,400,800,1200],"title":"Density (fish.100m⁻²)","titlePadding":7}}}}
  ]},
  {"data":{"name":"lab"},"transform":[{"filter":"datum.p=='b'"}],"mark":{"type":"text","fontSize":26,"fontWeight":"bold","align":"left","baseline":"middle","fill":"black"},"encoding":{"x":{"datum":1983.2,"type":"quantitative"},"y":{"datum":1151,"type":"quantitative"},"text":{"field":"t","type":"nominal"}}}
 ]},
{"title":"Herbivores","width":262,"height":221,
 "layer":[
 {"encoding":{"x":{"field":"x","type":"quantitative","scale":{"domain":[1981.88,2012.12],"nice":false,"zero":false},"axis":{"values":[1983,1987,1991,1995,1999,2003,2007,2011],"format":"d","labelExpr":"(datum.value-1983)%8==0 ? datum.label : ''","title":null}}},
  "layer":[
  {"data":{"name":"vl"},"mark":{"type":"rule","strokeDash":[4,4],"color":"#333333","strokeWidth":1},"encoding":{}},
  {"data":{"name":"pts"},"transform":[{"filter":"datum.p=='c'"}],"mark":{"type":"circle","size":38,"opacity":1},"encoding":{"y":{"field":"y","type":"quantitative","scale":{"domain":[-16,418],"nice":false,"zero":false},"axis":{"values":[0,400],"title":"Density (fish.100m⁻²)","titlePadding":2}},"color":{"field":"x","type":"quantitative","scale":{"type":"threshold","domain":[1991,1994,2006],"range":["#3a8ee6","#ef8a1d","#1fb54c","#ff2200"]},"legend":null}}},
  {"data":{"name":"crv"},"transform":[{"filter":"datum.p=='c' && datum.k!='m'"}],"mark":{"type":"line","strokeDash":[4,4],"strokeWidth":1,"color":"black","interpolate":"monotone","clip":true},"encoding":{"y":{"field":"y","type":"quantitative","scale":{"domain":[-16,418],"nice":false,"zero":false},"axis":{"values":[0,400],"title":"Density (fish.100m⁻²)","titlePadding":2}},"detail":{"field":"k","type":"nominal"}}},
  {"data":{"name":"crv"},"transform":[{"filter":"datum.p=='c' && datum.k=='m'"}],"mark":{"type":"line","strokeWidth":2.6,"color":"black","interpolate":"monotone","clip":true},"encoding":{"y":{"field":"y","type":"quantitative","scale":{"domain":[-16,418],"nice":false,"zero":false},"axis":{"values":[0,400],"title":"Density (fish.100m⁻²)","titlePadding":2}}}}
  ]},
  {"data":{"name":"lab"},"transform":[{"filter":"datum.p=='c'"}],"mark":{"type":"text","fontSize":26,"fontWeight":"bold","align":"left","baseline":"middle","fill":"black"},"encoding":{"x":{"datum":1983.2,"type":"quantitative"},"y":{"datum":369,"type":"quantitative"},"text":{"field":"t","type":"nominal"}}}
 ]},
{"title":"Corallivores","width":262,"height":221,
 "layer":[
 {"encoding":{"x":{"field":"x","type":"quantitative","scale":{"domain":[1981.88,2012.12],"nice":false,"zero":false},"axis":{"values":[1983,1987,1991,1995,1999,2003,2007,2011],"format":"d","labelExpr":"(datum.value-1983)%8==0 ? datum.label : ''","title":null}}},
  "layer":[
  {"data":{"name":"vl"},"mark":{"type":"rule","strokeDash":[4,4],"color":"#333333","strokeWidth":1},"encoding":{}},
  {"data":{"name":"pts"},"transform":[{"filter":"datum.p=='d'"}],"mark":{"type":"circle","size":38,"opacity":1},"encoding":{"y":{"field":"y","type":"quantitative","scale":{"domain":[-4,104],"nice":false,"zero":false},"axis":{"values":[0,40,80],"title":"Density (fish.100m⁻²)","titlePadding":3.5}},"color":{"field":"x","type":"quantitative","scale":{"type":"threshold","domain":[1991,1994,2006],"range":["#3a8ee6","#ef8a1d","#1fb54c","#ff2200"]},"legend":null}}},
  {"data":{"name":"crv"},"transform":[{"filter":"datum.p=='d' && datum.k!='m'"}],"mark":{"type":"line","strokeDash":[4,4],"strokeWidth":1,"color":"black","interpolate":"monotone","clip":true},"encoding":{"y":{"field":"y","type":"quantitative","scale":{"domain":[-4,104],"nice":false,"zero":false},"axis":{"values":[0,40,80],"title":"Density (fish.100m⁻²)","titlePadding":3.5}},"detail":{"field":"k","type":"nominal"}}},
  {"data":{"name":"crv"},"transform":[{"filter":"datum.p=='d' && datum.k=='m'"}],"mark":{"type":"line","strokeWidth":2.6,"color":"black","interpolate":"monotone","clip":true},"encoding":{"y":{"field":"y","type":"quantitative","scale":{"domain":[-4,104],"nice":false,"zero":false},"axis":{"values":[0,40,80],"title":"Density (fish.100m⁻²)","titlePadding":3.5}}}}
  ]},
  {"data":{"name":"lab"},"transform":[{"filter":"datum.p=='d'"}],"mark":{"type":"text","fontSize":26,"fontWeight":"bold","align":"left","baseline":"middle","fill":"black"},"encoding":{"x":{"datum":1983.2,"type":"quantitative"},"y":{"datum":91.8,"type":"quantitative"},"text":{"field":"t","type":"nominal"}}}
 ]},
{"title":"Microcarnivores","width":262,"height":221,
 "layer":[
 {"encoding":{"x":{"field":"x","type":"quantitative","scale":{"domain":[1981.88,2012.12],"nice":false,"zero":false},"axis":{"values":[1983,1987,1991,1995,1999,2003,2007,2011],"format":"d","labelExpr":"(datum.value-1983)%8==0 ? datum.label : ''","title":null}}},
  "layer":[
  {"data":{"name":"vl"},"mark":{"type":"rule","strokeDash":[4,4],"color":"#333333","strokeWidth":1},"encoding":{}},
  {"data":{"name":"pts"},"transform":[{"filter":"datum.p=='e'"}],"mark":{"type":"circle","size":38,"opacity":1},"encoding":{"y":{"field":"y","type":"quantitative","scale":{"domain":[-4,104],"nice":false,"zero":false},"axis":{"values":[0,40,80],"title":"Density (fish.100m⁻²)","titlePadding":8.5}},"color":{"field":"x","type":"quantitative","scale":{"type":"threshold","domain":[1991,1994,2006],"range":["#3a8ee6","#ef8a1d","#1fb54c","#ff2200"]},"legend":null}}},
  {"data":{"name":"crv"},"transform":[{"filter":"datum.p=='e' && datum.k!='m'"}],"mark":{"type":"line","strokeDash":[4,4],"strokeWidth":1,"color":"black","interpolate":"monotone","clip":true},"encoding":{"y":{"field":"y","type":"quantitative","scale":{"domain":[-4,104],"nice":false,"zero":false},"axis":{"values":[0,40,80],"title":"Density (fish.100m⁻²)","titlePadding":8.5}},"detail":{"field":"k","type":"nominal"}}},
  {"data":{"name":"crv"},"transform":[{"filter":"datum.p=='e' && datum.k=='m'"}],"mark":{"type":"line","strokeWidth":2.6,"color":"black","interpolate":"monotone","clip":true},"encoding":{"y":{"field":"y","type":"quantitative","scale":{"domain":[-4,104],"nice":false,"zero":false},"axis":{"values":[0,40,80],"title":"Density (fish.100m⁻²)","titlePadding":8.5}}}}
  ]},
  {"data":{"name":"lab"},"transform":[{"filter":"datum.p=='e'"}],"mark":{"type":"text","fontSize":26,"fontWeight":"bold","align":"left","baseline":"middle","fill":"black"},"encoding":{"x":{"datum":1983.2,"type":"quantitative"},"y":{"datum":91.8,"type":"quantitative"},"text":{"field":"t","type":"nominal"}}}
 ]},
{"title":"Macrocarnivores","width":262,"height":221,
 "layer":[
 {"encoding":{"x":{"field":"x","type":"quantitative","scale":{"domain":[1981.88,2012.12],"nice":false,"zero":false},"axis":{"values":[1983,1987,1991,1995,1999,2003,2007,2011],"format":"d","labelExpr":"(datum.value-1983)%8==0 ? datum.label : ''","title":null}}},
  "layer":[
  {"data":{"name":"vl"},"mark":{"type":"rule","strokeDash":[4,4],"color":"#333333","strokeWidth":1},"encoding":{}},
  {"data":{"name":"pts"},"transform":[{"filter":"datum.p=='f'"}],"mark":{"type":"circle","size":38,"opacity":1},"encoding":{"y":{"field":"y","type":"quantitative","scale":{"domain":[-4,104],"nice":false,"zero":false},"axis":{"values":[0,40,80],"title":"Density (fish.100m⁻²)","titlePadding":7}},"color":{"field":"x","type":"quantitative","scale":{"type":"threshold","domain":[1991,1994,2006],"range":["#3a8ee6","#ef8a1d","#1fb54c","#ff2200"]},"legend":null}}},
  {"data":{"name":"crv"},"transform":[{"filter":"datum.p=='f' && datum.k!='m'"}],"mark":{"type":"line","strokeDash":[4,4],"strokeWidth":1,"color":"black","interpolate":"monotone","clip":true},"encoding":{"y":{"field":"y","type":"quantitative","scale":{"domain":[-4,104],"nice":false,"zero":false},"axis":{"values":[0,40,80],"title":"Density (fish.100m⁻²)","titlePadding":7}},"detail":{"field":"k","type":"nominal"}}},
  {"data":{"name":"crv"},"transform":[{"filter":"datum.p=='f' && datum.k=='m'"}],"mark":{"type":"line","strokeWidth":2.6,"color":"black","interpolate":"monotone","clip":true},"encoding":{"y":{"field":"y","type":"quantitative","scale":{"domain":[-4,104],"nice":false,"zero":false},"axis":{"values":[0,40,80],"title":"Density (fish.100m⁻²)","titlePadding":7}}}}
  ]},
  {"data":{"name":"lab"},"transform":[{"filter":"datum.p=='f'"}],"mark":{"type":"text","fontSize":26,"fontWeight":"bold","align":"left","baseline":"middle","fill":"black"},"encoding":{"x":{"datum":1983.2,"type":"quantitative"},"y":{"datum":91.8,"type":"quantitative"},"text":{"field":"t","type":"nominal"}}}
 ]},
{"title":"Piscivores","width":262,"height":221,
 "layer":[
 {"encoding":{"x":{"field":"x","type":"quantitative","scale":{"domain":[1981.88,2012.12],"nice":false,"zero":false},"axis":{"values":[1983,1987,1991,1995,1999,2003,2007,2011],"format":"d","labelExpr":"(datum.value-1983)%8==0 ? datum.label : ''","title":null}}},
  "layer":[
  {"data":{"name":"vl"},"mark":{"type":"rule","strokeDash":[4,4],"color":"#333333","strokeWidth":1},"encoding":{}},
  {"data":{"name":"pts"},"transform":[{"filter":"datum.p=='g'"}],"mark":{"type":"circle","size":38,"opacity":1},"encoding":{"y":{"field":"y","type":"quantitative","scale":{"domain":[-4,104],"nice":false,"zero":false},"axis":{"values":[0,40,80],"title":"Density (fish.100m⁻²)","titlePadding":2}},"color":{"field":"x","type":"quantitative","scale":{"type":"threshold","domain":[1991,1994,2006],"range":["#3a8ee6","#ef8a1d","#1fb54c","#ff2200"]},"legend":null}}},
  {"data":{"name":"crv"},"transform":[{"filter":"datum.p=='g' && datum.k!='m'"}],"mark":{"type":"line","strokeDash":[4,4],"strokeWidth":1,"color":"black","interpolate":"monotone","clip":true},"encoding":{"y":{"field":"y","type":"quantitative","scale":{"domain":[-4,104],"nice":false,"zero":false},"axis":{"values":[0,40,80],"title":"Density (fish.100m⁻²)","titlePadding":2}},"detail":{"field":"k","type":"nominal"}}},
  {"data":{"name":"crv"},"transform":[{"filter":"datum.p=='g' && datum.k=='m'"}],"mark":{"type":"line","strokeWidth":2.6,"color":"black","interpolate":"monotone","clip":true},"encoding":{"y":{"field":"y","type":"quantitative","scale":{"domain":[-4,104],"nice":false,"zero":false},"axis":{"values":[0,40,80],"title":"Density (fish.100m⁻²)","titlePadding":2}}}}
  ]},
  {"data":{"name":"lab"},"transform":[{"filter":"datum.p=='g'"}],"mark":{"type":"text","fontSize":26,"fontWeight":"bold","align":"left","baseline":"middle","fill":"black"},"encoding":{"x":{"datum":1983.2,"type":"quantitative"},"y":{"datum":91.8,"type":"quantitative"},"text":{"field":"t","type":"nominal"}}}
 ]},
{"title":"All fish species","width":262,"height":221,
 "layer":[
 {"encoding":{"x":{"field":"x","type":"quantitative","scale":{"domain":[1981.88,2012.12],"nice":false,"zero":false},"axis":{"values":[1983,1987,1991,1995,1999,2003,2007,2011],"format":"d","labelExpr":"(datum.value-1983)%8==0 ? datum.label : ''","title":null}}},
  "layer":[
  {"data":{"name":"vl"},"mark":{"type":"rule","strokeDash":[4,4],"color":"#333333","strokeWidth":1},"encoding":{}},
  {"data":{"name":"pts"},"transform":[{"filter":"datum.p=='h'"}],"mark":{"type":"circle","size":38,"opacity":1},"encoding":{"y":{"field":"y","type":"quantitative","scale":{"domain":[22.8,82.2],"nice":false,"zero":false},"axis":{"values":[40,60,80],"title":"Number of species","titlePadding":2}},"color":{"field":"x","type":"quantitative","scale":{"type":"threshold","domain":[1991,1994,2006],"range":["#3a8ee6","#ef8a1d","#1fb54c","#ff2200"]},"legend":null}}},
  {"data":{"name":"crv"},"transform":[{"filter":"datum.p=='h' && datum.k!='m'"}],"mark":{"type":"line","strokeDash":[4,4],"strokeWidth":1,"color":"black","interpolate":"monotone","clip":true},"encoding":{"y":{"field":"y","type":"quantitative","scale":{"domain":[22.8,82.2],"nice":false,"zero":false},"axis":{"values":[40,60,80],"title":"Number of species","titlePadding":2}},"detail":{"field":"k","type":"nominal"}}},
  {"data":{"name":"crv"},"transform":[{"filter":"datum.p=='h' && datum.k=='m'"}],"mark":{"type":"line","strokeWidth":2.6,"color":"black","interpolate":"monotone","clip":true},"encoding":{"y":{"field":"y","type":"quantitative","scale":{"domain":[22.8,82.2],"nice":false,"zero":false},"axis":{"values":[40,60,80],"title":"Number of species","titlePadding":2}}}}
  ]},
  {"data":{"name":"lab"},"transform":[{"filter":"datum.p=='h'"}],"mark":{"type":"text","fontSize":26,"fontWeight":"bold","align":"left","baseline":"middle","fill":"black"},"encoding":{"x":{"datum":1983.2,"type":"quantitative"},"y":{"datum":75.5,"type":"quantitative"},"text":{"field":"t","type":"nominal"}}}
 ]}
]
}
